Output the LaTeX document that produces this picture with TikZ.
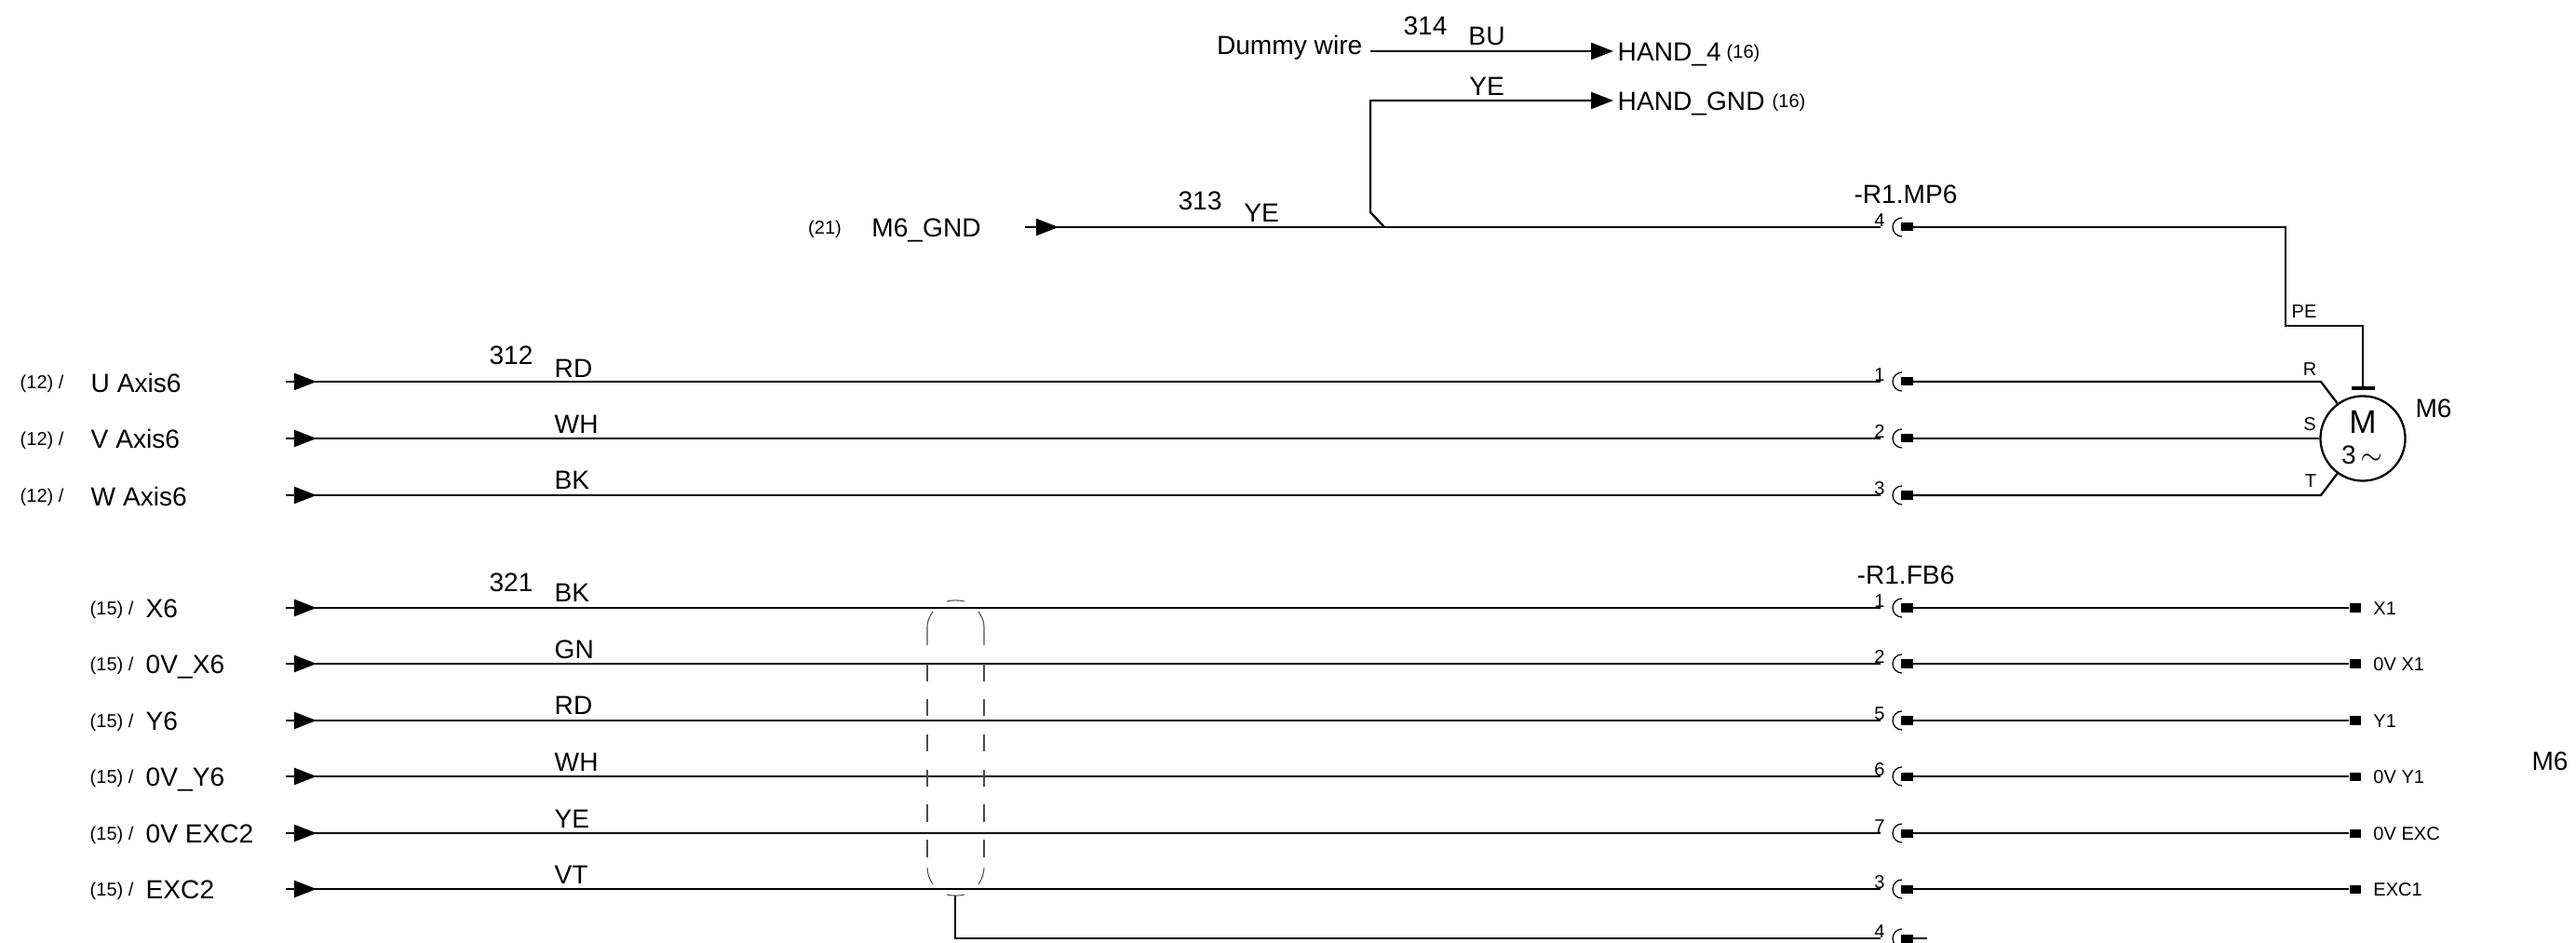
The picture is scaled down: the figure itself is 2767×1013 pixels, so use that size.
\documentclass[tikz,border=0pt]{standalone}
\usepackage{fontspec}
\setmainfont{Liberation Sans}
\usetikzlibrary{arrows.meta}
\tikzset{
    wire/.style={line width=0.65pt},
    wirein/.style={wire, shorten >=0.205cm},
    feed/.style={wire, -{Triangle[length=0.24cm,width=0.18cm]}},
    big/.style={font=\fontsize{8}{9}\selectfont, inner sep=0pt, text height=5.7pt, text depth=0pt},
    small/.style={font=\fontsize{5.7}{7}\selectfont, inner sep=0pt, text height=4.1pt, text depth=0pt},
    pinnum/.style={small, yshift=0.08cm, label distance=0.155cm},
    termlab/.style={small, label distance=0.12cm},
    pinsq/.style={rectangle, fill=black, inner sep=0pt, minimum width=0.13cm, minimum height=0.09cm,
        append after command={\pgfextra{\draw[line width=0.35pt] (\tikzlastnode.center) ++(-0.05cm,0.1cm) arc[start angle=90, end angle=270, radius=0.1cm];}}},
    termsq/.style={rectangle, fill=black, inner sep=0pt, minimum width=0.12cm, minimum height=0.09cm},
    shield/.style={line width=0.3pt, black!70}
}
\begin{document}
\begin{tikzpicture}[x=0.01cm, y=-0.01cm]
    \useasboundingbox (0, 0) rectangle (2767, 1013);

    % Wires at the top
    \node[big, anchor=east] (dummy) at (1464, 48) {Dummy wire};
    \coordinate (dummyEnd) at (1472, 55);
    \node[big, anchor=west] (hand4) at (1737, 55) {HAND\_4};
    \node[small, anchor=west] (ref4) at (1854, 55) {(16)};
    \node[big, anchor=west] (handGnd) at (1737, 108) {HAND\_GND};
    \node[small, anchor=west] (refGnd) at (1903, 108) {(16)};
    \draw[feed, shorten >=0.04cm] (dummyEnd) -- (hand4.west);
    \node[big] (no314) at (1531, 27) {314};
    \node[big] (colBu) at (1597, 38) {BU};
    \node[big] (colYeTop) at (1597, 92) {YE};

    % Ground line and its branch
    \node[small] (ref21) at (886, 244) {(21)};
    \node[big] (gndName) at (995, 244) {M6\_GND};
    \coordinate (inG) at (1101, 244);
    \node[pinsq, label={[pinnum]left:4}] (pinG) at (2048, 244) {};
    \node[big] (pinGName) at (2047, 208) {-R1.MP6};
    \draw[feed] (inG) -- ++(36, 0);
    \draw[wirein] (inG) -- (pinG);
    \node[big] (no313) at (1289, 215) {313};
    \node[big] (colG) at (1355, 228) {YE};
    \coordinate (branch) at (1487, 244);
    \coordinate (knee) at (1472, 228);
    \draw[feed, shorten >=0.04cm] (branch) -- (knee) |- (handGnd.west);

    % Motor
    \node[draw, circle, line width=0.65pt, inner sep=0pt, minimum size=0.91cm] (motor) at (2538, 471) {};
    \node[font=\fontsize{10}{12}\selectfont, inner sep=0pt] (motorM) at (2538, 453) {M};
    \node[big] (motor3) at (2537, 488) {3\,$\sim$};
    \node[big] (motorName) at (2614, 438) {M6};
    \node[rectangle, fill=black, inner sep=0pt, minimum width=0.25cm, minimum height=0.035cm] (peBar) at (2538, 417) {};
    \coordinate (peDrop) at (2455, 350);
    \coordinate (bendR) at (2493, 410);
    \coordinate (bendT) at (2493, 532);
    \node[small] (labPE) at (2475, 334) {PE};
    \node[small] (labR) at (2481, 396) {R};
    \node[small] (labS) at (2481, 455) {S};
    \node[small] (labT) at (2482, 516) {T};
    \draw[wire] (pinG) -| (peDrop) -| (peBar);

    % Power lines
    \node[small, anchor=west] (refU) at (21, 410) {(12) /};
    \node[small, anchor=west] (refV) at (21, 471) {(12) /};
    \node[small, anchor=west] (refW) at (21, 532) {(12) /};
    \node[big, anchor=west] (nameU) at (97, 411) {U Axis6};
    \node[big, anchor=west] (nameV) at (97, 471) {V Axis6};
    \node[big, anchor=west] (nameW) at (97, 533) {W Axis6};
    \coordinate (inU) at (307, 410);
    \coordinate (inV) at (307, 471);
    \coordinate (inW) at (307, 532);
    \node[pinsq, label={[pinnum]left:1}] (pinU) at (2048, 410) {};
    \node[pinsq, label={[pinnum]left:2}] (pinV) at (2048, 471) {};
    \node[pinsq, label={[pinnum]left:3}] (pinW) at (2048, 532) {};
    \draw[feed] (inU) -- ++(33, 0);
    \draw[feed] (inV) -- ++(33, 0);
    \draw[feed] (inW) -- ++(33, 0);
    \draw[wirein] (inU) -- (pinU);
    \draw[wirein] (inV) -- (pinV);
    \draw[wirein] (inW) -- (pinW);
    \draw[wire] (pinU) -- (bendR) -- (motor.126);
    \draw[wire] (pinV) -- (motor.west);
    \draw[wire] (pinW) -- (bendT) -- (motor.234);
    \node[big] (no312) at (549, 381) {312};
    \node[big, anchor=west] (colU) at (595, 395) {RD};
    \node[big, anchor=west] (colV) at (595, 455) {WH};
    \node[big, anchor=west] (colW) at (595, 515) {BK};

    % Feedback lines
    \node[small, anchor=west] (refX) at (96, 653) {(15) /};
    \node[small, anchor=west] (refX0) at (96, 713) {(15) /};
    \node[small, anchor=west] (refY) at (96, 774) {(15) /};
    \node[small, anchor=west] (refY0) at (96, 834) {(15) /};
    \node[small, anchor=west] (refE0) at (96, 895) {(15) /};
    \node[small, anchor=west] (refE) at (96, 955) {(15) /};
    \node[big, anchor=west] (nameX) at (156, 653) {X6};
    \node[big, anchor=west] (nameX0) at (156, 713) {0V\_X6};
    \node[big, anchor=west] (nameY) at (156, 774) {Y6};
    \node[big, anchor=west] (nameY0) at (156, 834) {0V\_Y6};
    \node[big, anchor=west] (nameE0) at (156, 895) {0V EXC2};
    \node[big, anchor=west] (nameE) at (156, 955) {EXC2};
    \coordinate (inX) at (307, 653);
    \coordinate (inX0) at (307, 713);
    \coordinate (inY) at (307, 774);
    \coordinate (inY0) at (307, 834);
    \coordinate (inE0) at (307, 895);
    \coordinate (inE) at (307, 955);
    \node[big] (pinFbName) at (2047, 617) {-R1.FB6};
    \node[pinsq, label={[pinnum]left:1}] (pinX) at (2048, 653) {};
    \node[pinsq, label={[pinnum]left:2}] (pinX0) at (2048, 713) {};
    \node[pinsq, label={[pinnum]left:5}] (pinY) at (2048, 774) {};
    \node[pinsq, label={[pinnum]left:6}] (pinY0) at (2048, 834) {};
    \node[pinsq, label={[pinnum]left:7}] (pinE0) at (2048, 895) {};
    \node[pinsq, label={[pinnum]left:3}] (pinE) at (2048, 955) {};
    \node[pinsq, label={[pinnum]left:4}] (pinD) at (2048, 1008) {};
    \node[termsq, label={[termlab]right:X1}] (termX) at (2530, 653) {};
    \node[termsq, label={[termlab]right:0V X1}] (termX0) at (2530, 713) {};
    \node[termsq, label={[termlab]right:Y1}] (termY) at (2530, 774) {};
    \node[termsq, label={[termlab]right:0V Y1}] (termY0) at (2530, 834) {};
    \node[termsq, label={[termlab]right:0V EXC}] (termE0) at (2530, 895) {};
    \node[termsq, label={[termlab]right:EXC1}] (termE) at (2530, 955) {};
    \draw[feed] (inX) -- ++(33, 0);
    \draw[feed] (inX0) -- ++(33, 0);
    \draw[feed] (inY) -- ++(33, 0);
    \draw[feed] (inY0) -- ++(33, 0);
    \draw[feed] (inE0) -- ++(33, 0);
    \draw[feed] (inE) -- ++(33, 0);
    \draw[wirein] (inX) -- (pinX);
    \draw[wirein] (inX0) -- (pinX0);
    \draw[wirein] (inY) -- (pinY);
    \draw[wirein] (inY0) -- (pinY0);
    \draw[wirein] (inE0) -- (pinE0);
    \draw[wirein] (inE) -- (pinE);
    \draw[wire] (pinX) -- (termX);
    \draw[wire] (pinX0) -- (termX0);
    \draw[wire] (pinY) -- (termY);
    \draw[wire] (pinY0) -- (termY0);
    \draw[wire] (pinE0) -- (termE0);
    \draw[wire] (pinE) -- (termE);
    \node[big] (no321) at (549, 625) {321};
    \node[big, anchor=west] (colX) at (595, 636) {BK};
    \node[big, anchor=west] (colX0) at (595, 697) {GN};
    \node[big, anchor=west] (colY) at (595, 757) {RD};
    \node[big, anchor=west] (colY0) at (595, 818) {WH};
    \node[big, anchor=west] (colE0) at (595, 879) {YE};
    \node[big, anchor=west] (colE) at (595, 939) {VT};
    \node[big] (pageName) at (2739, 817) {M6};

    % Shield around the feedback lines
    \draw[shield] (1017, 646) .. controls (1023, 644.5) and (1030, 644.5) .. (1036, 646);
    \draw[shield] (1002, 657) .. controls (998, 663) and (996, 668) .. (996, 673) -- (996, 693);
    \draw[shield] (1051, 657) .. controls (1055, 663) and (1057, 668) .. (1057, 673) -- (1057, 693);
    \draw[shield] (996, 713) -- (996, 732) (996, 751) -- (996, 769) (996, 789) -- (996, 807);
    \draw[shield] (996, 827) -- (996, 845) (996, 864) -- (996, 883) (996, 902) -- (996, 921);
    \draw[shield] (1057, 713) -- (1057, 732) (1057, 751) -- (1057, 769) (1057, 789) -- (1057, 807);
    \draw[shield] (1057, 827) -- (1057, 845) (1057, 864) -- (1057, 883) (1057, 902) -- (1057, 921);
    \draw[shield] (996, 932) .. controls (996, 938) and (998, 944) .. (1002, 950);
    \draw[shield] (1057, 932) .. controls (1057, 938) and (1055, 944) .. (1051, 950);
    \draw[shield] (1017, 961) .. controls (1023, 962.5) and (1030, 962.5) .. (1036, 961);

    % Drain wire from the shield
    \coordinate (shieldTap) at (1026, 962);
    \coordinate (drainEnd) at (2070, 1008);
    \draw[wirein] (shieldTap) |- (pinD);
    \draw[wire] (pinD) -- (drainEnd);
\end{tikzpicture}
\end{document}
